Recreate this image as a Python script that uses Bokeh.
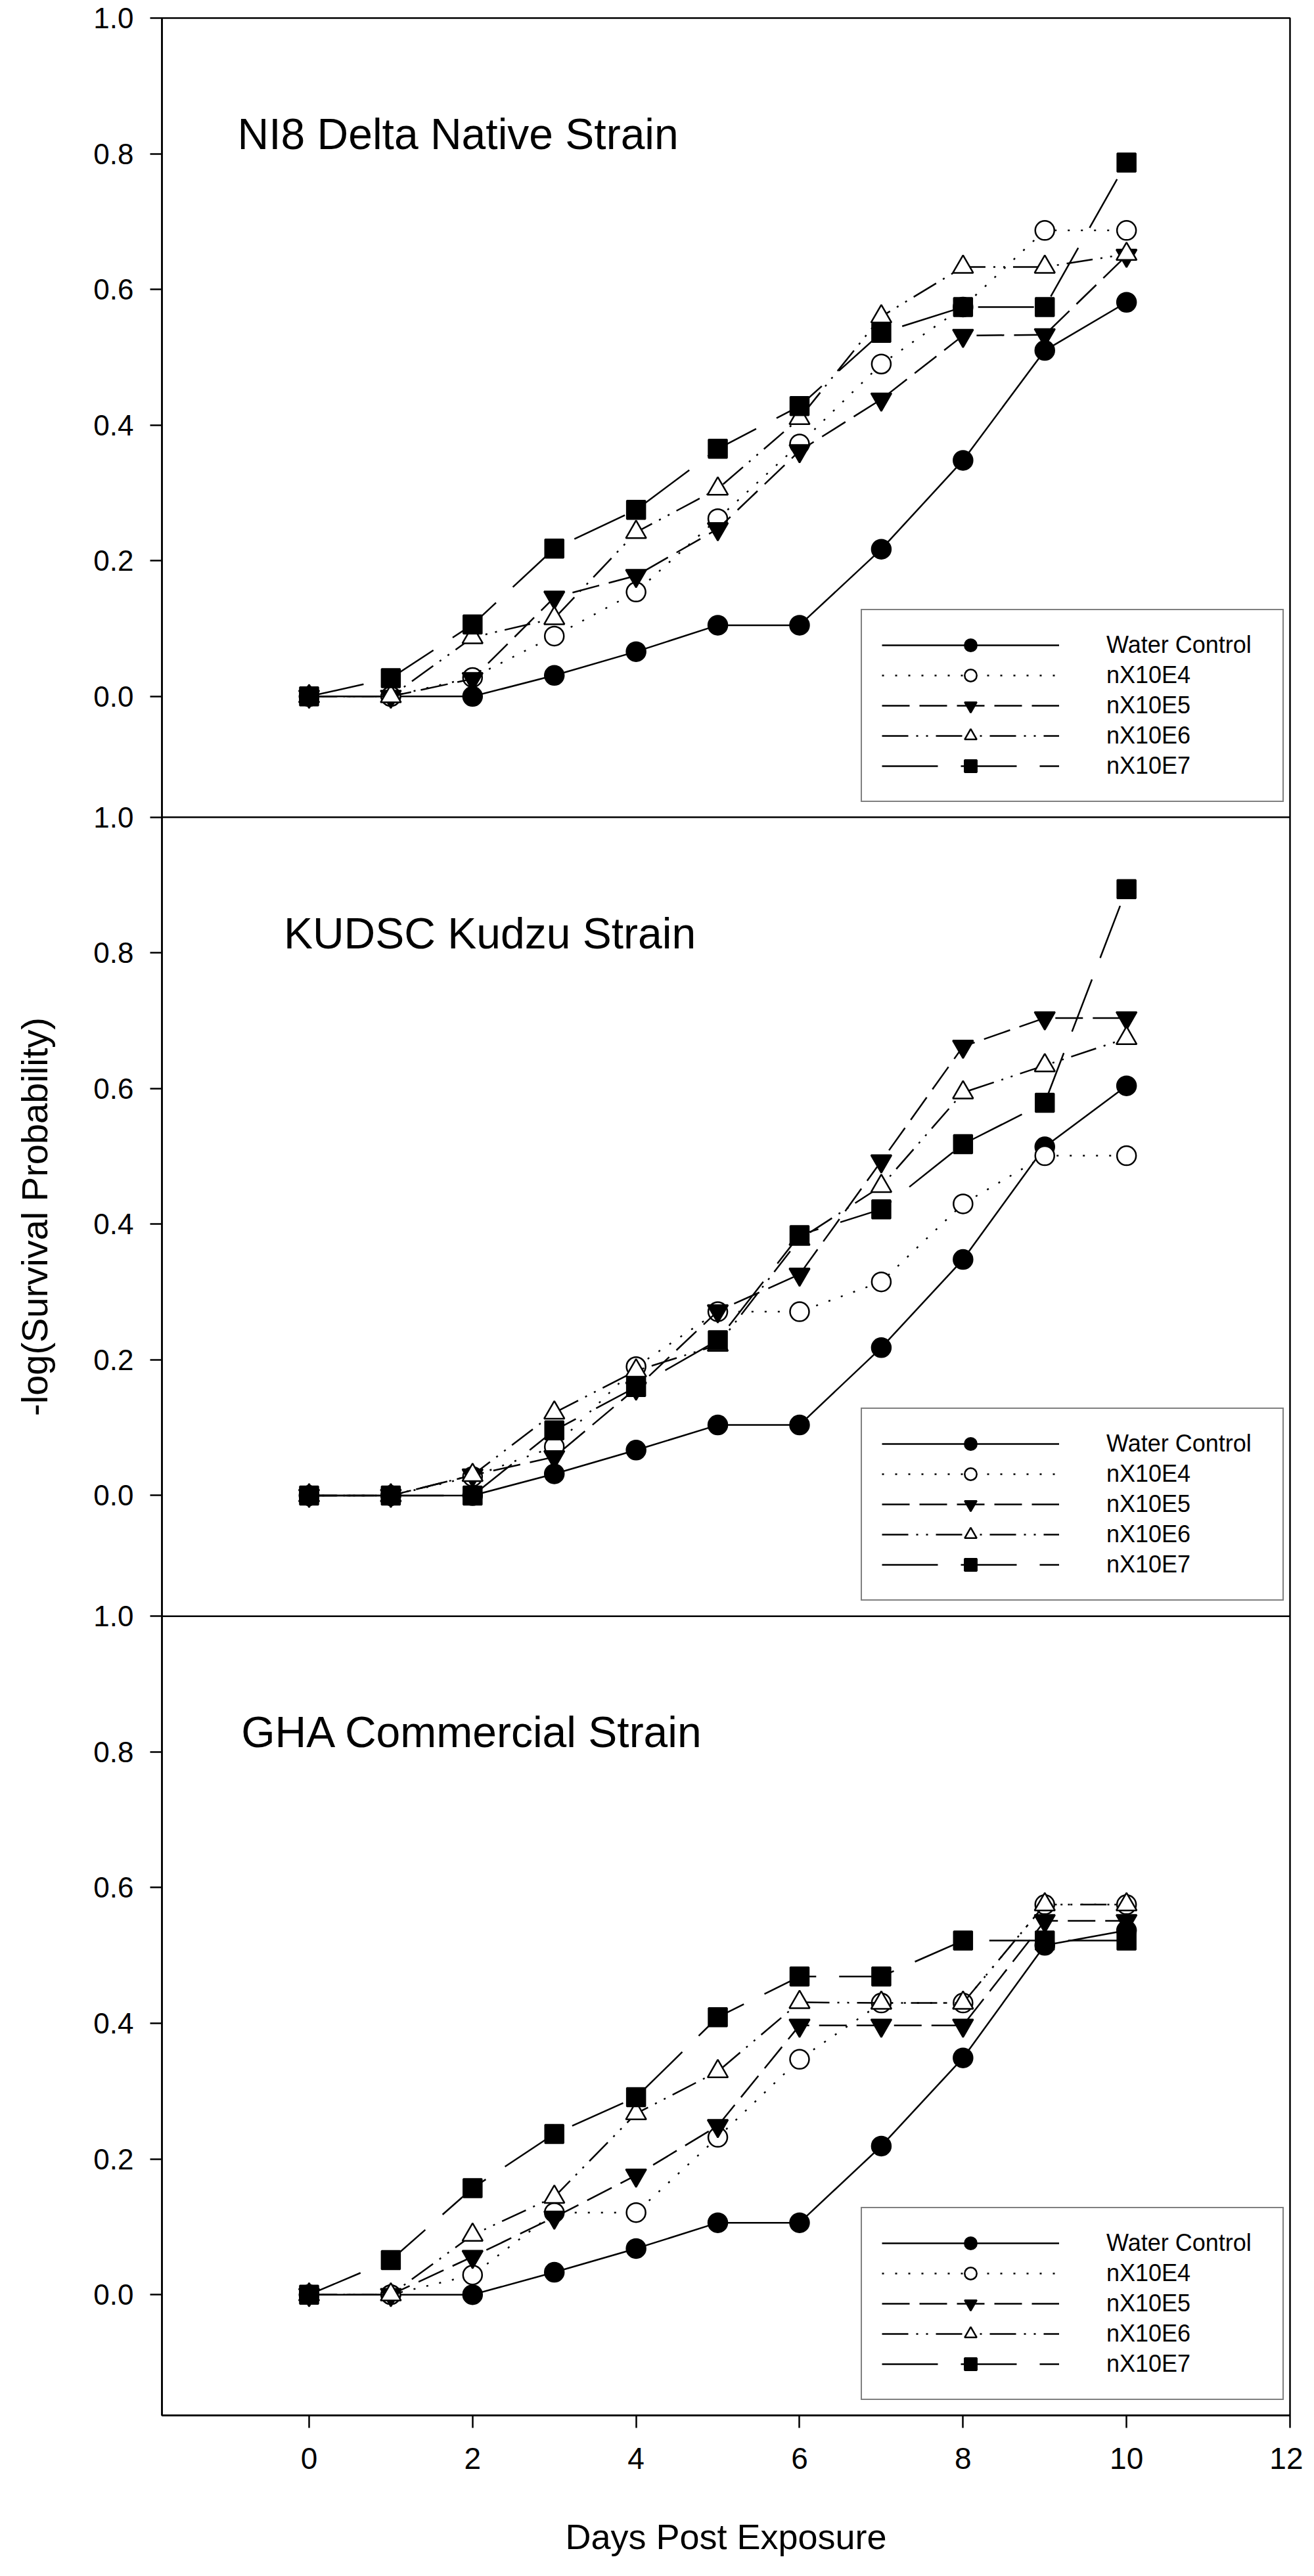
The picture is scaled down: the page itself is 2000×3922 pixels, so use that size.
from bokeh.plotting import figure
from bokeh.models import (Range1d, FixedTicker, CustomJSTickFormatter, Legend, LegendItem,
                          Label, Span)
from bokeh.embed import file_html
from bokeh.resources import INLINE

# ---------------- data ----------------
days = [0, 1, 2, 3, 4, 5, 6, 7, 8, 9, 10]
series_names = ["Water Control", "nX10E4", "nX10E5", "nX10E6", "nX10E7"]
panel_titles = ["NI8 Delta Native Strain", "KUDSC Kudzu Strain", "GHA Commercial Strain"]

# NI8 Delta Native Strain
ni8_water = [0, 0, 0, 0.031, 0.066, 0.105, 0.105, 0.217, 0.348, 0.510, 0.581]
ni8_e4 = [0, 0, 0.028, 0.089, 0.154, 0.262, 0.372, 0.490, 0.574, 0.687, 0.687]
ni8_e5 = [0, 0, 0.026, 0.146, 0.178, 0.247, 0.362, 0.438, 0.532, 0.533, 0.650]
ni8_e6 = [0, 0, 0.087, 0.115, 0.242, 0.306, 0.410, 0.560, 0.633, 0.633, 0.652]
ni8_e7 = [0, 0.027, 0.106, 0.218, 0.275, 0.365, 0.428, 0.536, 0.574, 0.574, 0.787]

# KUDSC Kudzu Strain
kud_water = [0, 0, 0, 0.032, 0.067, 0.104, 0.104, 0.218, 0.348, 0.514, 0.604]
kud_e4 = [0, 0, 0.028, 0.072, 0.190, 0.271, 0.271, 0.315, 0.430, 0.501, 0.501]
kud_e5 = [0, 0, 0.030, 0.057, 0.158, 0.272, 0.326, 0.493, 0.662, 0.704, 0.704]
kud_e6 = [0, 0, 0.030, 0.122, 0.184, 0.222, 0.378, 0.456, 0.594, 0.634, 0.674]
kud_e7 = [0, 0, 0, 0.096, 0.160, 0.229, 0.384, 0.422, 0.518, 0.579, 0.894]

# GHA Commercial Strain
gha_water = [0, 0, 0, 0.033, 0.068, 0.106, 0.106, 0.219, 0.349, 0.515, 0.537]
gha_e4 = [0, 0, 0.029, 0.121, 0.121, 0.232, 0.347, 0.430, 0.430, 0.575, 0.575]
gha_e5 = [0, 0, 0.056, 0.114, 0.176, 0.249, 0.397, 0.397, 0.397, 0.551, 0.551]
gha_e6 = [0, 0, 0.088, 0.144, 0.267, 0.329, 0.431, 0.430, 0.430, 0.575, 0.575]
gha_e7 = [0, 0.051, 0.157, 0.237, 0.291, 0.409, 0.469, 0.469, 0.522, 0.522, 0.522]

y_ticks = [0.0, 0.2, 0.4, 0.6, 0.8, 1.0]
x_ticks = [0, 2, 4, 6, 8, 10, 12]

panel_values = [
    [ni8_water, ni8_e4, ni8_e5, ni8_e6, ni8_e7],
    [kud_water, kud_e4, kud_e5, kud_e6, kud_e7],
    [gha_water, gha_e4, gha_e5, gha_e6, gha_e7],
]

# ---------------- layout / styles ----------------
FONT = "Liberation Sans"
styles = [
    dict(dash="solid", marker="circle", fill="black", size=29),
    dict(dash="3 17", marker="circle", fill="white", size=29),
    dict(dash="42 15", marker="inverted_triangle", fill="black", size=31),
    dict(dash="40 12 3 12 3 12", marker="triangle", fill="white", size=31),
    dict(dash="85 35", marker="square", fill="black", size=28),
]

Y_MIN, Y_MAX = -0.178, 1.0
SPAN = Y_MAX - Y_MIN            # height of one panel in data units
N = 3
FRAME_W, FRAME_H = 1717, 3650
LEFT, RIGHT, TOP, BOTTOM = 246, 20, 27, 229
px_per_unit = FRAME_H / (N * SPAN)

range_names = ["ni8", "kud", "gha"]
title_pos = [(-0.876, 0.829), (-0.31, 0.829), (-0.83, 0.829)]

p = figure(
    width=LEFT + FRAME_W + RIGHT,
    height=TOP + FRAME_H + BOTTOM,
    x_range=Range1d(-1.8, 12),
    y_range=Range1d(Y_MIN, Y_MIN + N * SPAN),
    output_backend="svg",
    toolbar_location=None,
    min_border_left=LEFT,
    min_border_right=RIGHT,
    min_border_top=TOP,
    min_border_bottom=BOTTOM,
    background_fill_color="white",
    border_fill_color="white",
)
p.grid.visible = False
p.outline_line_color = "black"
p.outline_line_width = 2.5

# panel k (0 = top) occupies its own y range spanning the whole frame
for k, name in enumerate(range_names):
    below = N - 1 - k
    p.extra_y_ranges[name] = Range1d(Y_MIN - below * SPAN, Y_MAX + k * SPAN)

# y axis: repeated 0.0..1.0 ticks for each panel
ya = p.yaxis[0]
ya.ticker = FixedTicker(ticks=[t + j * SPAN for j in range(N) for t in y_ticks])
ya.formatter = CustomJSTickFormatter(
    args=dict(span=SPAN, top=Y_MAX),
    code="""
        let v = tick;
        while (v > top + 1e-6) { v -= span; }
        if (Math.abs(v) < 1e-6) { v = 0; }
        return v.toFixed(1);
    """)
ya.major_tick_in = 0
ya.major_tick_out = 18
ya.minor_tick_in = 0
ya.minor_tick_out = 0
ya.axis_line_width = 2.5
ya.major_tick_line_width = 2.5
ya.major_label_text_font = FONT
ya.major_label_text_font_size = "44px"
ya.major_label_text_color = "black"
ya.major_label_standoff = 25
ya.axis_label = "-log(Survival Probability)"
ya.axis_label_text_font = FONT
ya.axis_label_text_font_size = "56px"
ya.axis_label_text_font_style = "normal"
ya.axis_label_text_color = "black"
ya.axis_label_standoff = 55

xa = p.xaxis[0]
xa.ticker = FixedTicker(ticks=x_ticks)
xa.major_tick_in = 0
xa.major_tick_out = 19
xa.minor_tick_in = 0
xa.minor_tick_out = 0
xa.axis_line_width = 2.5
xa.major_tick_line_width = 2.5
xa.major_label_text_font = FONT
xa.major_label_text_font_size = "46px"
xa.major_label_text_color = "black"
xa.major_label_standoff = 30
xa.axis_label = "Days Post Exposure"
xa.axis_label_text_font = FONT
xa.axis_label_text_font_size = "54px"
xa.axis_label_text_font_style = "normal"
xa.axis_label_text_color = "black"
xa.axis_label_standoff = 70

# panel separators
for j in range(1, N):
    p.add_layout(Span(location=Y_MAX + (j - 1) * SPAN, dimension="width",
                      line_color="black", line_width=2.5))

for k, (name, values) in enumerate(zip(range_names, panel_values)):
    items = []
    for sname, vals, st in zip(series_names, values, styles):
        lr = p.line(days, vals, line_color="black", line_width=2.5,
                    line_dash=st["dash"], y_range_name=name)
        sr = p.scatter(days, vals, marker=st["marker"], size=st["size"],
                       fill_color=st["fill"], line_color="black", line_width=2.5,
                       y_range_name=name)
        items.append(LegendItem(label=sname, renderers=[lr, sr]))

    below = N - 1 - k
    legend = Legend(
        items=items,
        location=(1064, round(23 + below * SPAN * px_per_unit)),
        margin=0,
        padding=30,
        glyph_width=270,
        glyph_height=46,
        spacing=0,
        label_standoff=72,
        label_width=238,
        label_height=40,
        label_text_font=FONT,
        label_text_font_size="36px",
        label_text_color="black",
        border_line_color="black",
        border_line_width=2.5,
        background_fill_color="white",
        background_fill_alpha=1.0,
    )
    p.add_layout(legend)

    tx, ty = title_pos[k]
    p.add_layout(Label(x=tx, y=ty, y_range_name=name, text=panel_titles[k],
                       text_font=FONT, text_font_size="66px",
                       text_baseline="alphabetic", text_align="left",
                       text_color="black"))

open("out.html", "w").write(file_html(p, INLINE))
